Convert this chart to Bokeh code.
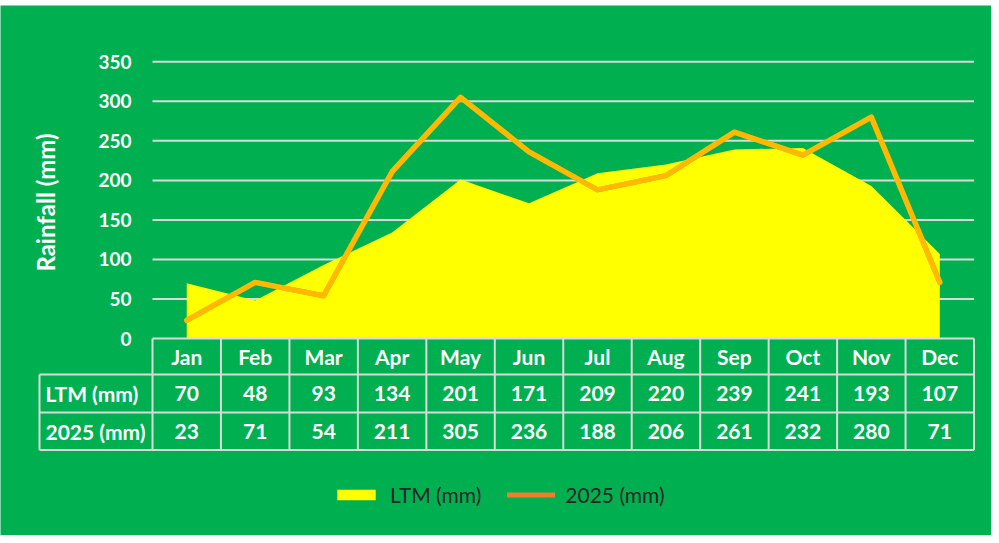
import math
from bokeh.plotting import figure
from bokeh.models import Range1d, Legend, LegendItem, Spacer
from bokeh.layouts import column
from bokeh.core.properties import value
from bokeh.embed import file_html
from bokeh.resources import INLINE

# ---- data ----
months = ["Jan", "Feb", "Mar", "Apr", "May", "Jun", "Jul", "Aug", "Sep", "Oct", "Nov", "Dec"]
ltm = [70, 48, 93, 134, 201, 171, 209, 220, 239, 241, 193, 107]
y2025 = [23, 71, 54, 211, 305, 236, 188, 206, 261, 232, 280, 71]
yticks = [0, 50, 100, 150, 200, 250, 300, 350]
row_labels = ["LTM (mm)", "2025 (mm)"]
series_names = ["LTM (mm)", "2025 (mm)"]

# ---- layout helpers (page pixel -> data) ----
FONT = "Lato"
GREEN = "#00B050"
GRID = "#D9D9D9"
X0, CW = 194.23, 68.46      # page x of first category, column width
Y0, PPU = 346.0, 0.7906     # page y of zero, px per mm
TOP = 13


def dx(px):
    return (px - X0) / CW


def dy(py):
    return (Y0 - py) / PPU


W, H = 991, 530
p = figure(width=W, height=H, output_backend="svg", toolbar_location=None,
           x_range=Range1d(dx(8), dx(8 + W)), y_range=Range1d(dy(TOP + H), dy(TOP)),
           min_border=0, min_border_left=0, min_border_right=0,
           min_border_top=0, min_border_bottom=0)
p.axis.visible = False
p.grid.visible = False
p.background_fill_color = GREEN
p.border_fill_color = GREEN
p.outline_line_color = None

xs = list(range(len(months)))
n = len(months)

# gridlines
gt = yticks[1:]
p.segment(x0=[-0.5] * len(gt), x1=[n - 0.5] * len(gt), y0=gt, y1=gt,
          line_color=GRID, line_width=2)

# area and line
area = p.varea(x=xs, y1=[0] * n, y2=ltm, fill_color="#FFFF00")
# orange copy (used for legend swatch), fully covered by the gold line drawn on top
legend_line = p.line(x=xs, y=y2025, line_color="#ED7D31", line_width=5,
                     line_cap="round", line_join="round")
p.line(x=xs, y=y2025, line_color="#FFB900", line_width=5.4,
       line_cap="round", line_join="round")

# table lines
hx0 = [-0.5, dx(47), dx(47), dx(47)]
hy = [dy(346), dy(382), dy(420), dy(457.5)]
p.segment(x0=hx0, x1=[n - 0.5] * 4, y0=hy, y1=hy, line_color=GRID, line_width=2)
vx = [k - 0.5 for k in range(n + 1)]
p.segment(x0=vx, x1=vx, y0=[dy(346)] * len(vx), y1=[dy(457.5)] * len(vx),
          line_color=GRID, line_width=2)
p.segment(x0=[dx(47)], x1=[dx(47)], y0=[dy(382)], y1=[dy(457.5)],
          line_color=GRID, line_width=2)

txt = dict(text_color="white", text_font=value(FONT), text_font_style="bold",
           text_baseline="middle")

# month headers
p.text(x=xs, y=[dy(364)] * n, text=months, text_align="center", text_font_size="21px", **txt)
# values
p.text(x=xs, y=[dy(401)] * n, text=[str(v) for v in ltm], text_align="center",
       text_font_size="21px", **txt)
p.text(x=xs, y=[dy(439)] * n, text=[str(v) for v in y2025], text_align="center",
       text_font_size="21px", **txt)
# row labels
p.text(x=[dx(53)] * 2, y=[dy(401), dy(439)], text=row_labels, text_align="left",
       text_font_size="21px", **txt)
# y tick labels
p.text(x=[dx(139)] * len(yticks), y=yticks, text=[str(t) for t in yticks],
       text_align="right", text_font_size="19px", **txt)
# y axis title
p.text(x=[dx(53)], y=[dy(210)], text=["Rainfall (mm)"], angle=math.pi / 2,
       text_align="center", text_font_size="24px", **txt)

legend = Legend(items=[LegendItem(label=series_names[0], renderers=[area]),
                       LegendItem(label=series_names[1], renderers=[legend_line])],
                orientation="horizontal", location=(332, 28),
                background_fill_alpha=0, border_line_color=None,
                padding=0, margin=0, spacing=26,
                glyph_width=48, glyph_height=13, label_standoff=10,
                label_text_font=FONT, label_text_font_size="21px",
                label_text_color="#262626", label_height=22)
p.add_layout(legend, "center")

layout = column(Spacer(width=W, height=TOP - 8), p, spacing=0)
open("out.html", "w").write(file_html(layout, INLINE))
